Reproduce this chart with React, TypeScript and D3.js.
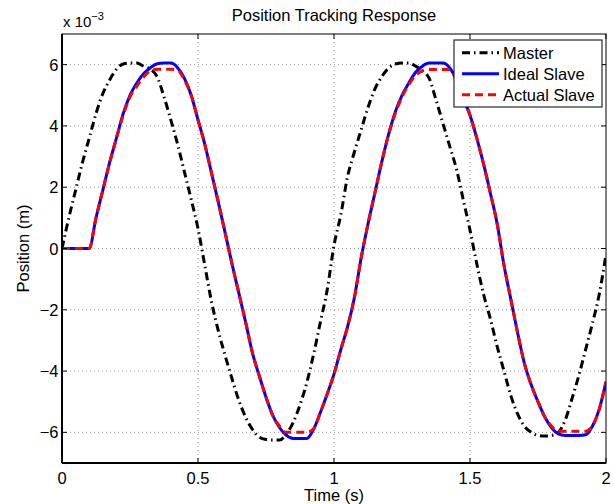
import React, { useRef, useEffect } from 'react';
import * as d3 from 'd3';

// time grid (s), values in units of 1e-3 m
const time = d3.range(81).map((i) => i * 0.025);

const master = [
  0, 1.0, 1.9, 2.8, 3.6, 4.4, 5.05, 5.5, 5.85, 6.02,
  6.05, 6.05, 5.95, 5.85, 5.6, 4.95, 4.2, 3.4, 2.5, 1.6,
  0.65, -0.55, -1.75, -2.7, -3.5, -4.25, -4.95, -5.5, -5.9, -6.15,
  -6.23, -6.25, -6.25, -6.05, -5.68, -5.1, -4.38, -3.45, -2.4, -1.35,
  0.1, 1.1, 2.35, 3.15, 3.88, 4.6, 5.2, 5.6, 5.88, 6.02,
  6.05, 6.05, 5.95, 5.8, 5.55, 4.85, 4.1, 3.35, 2.6, 1.6,
  0.6, -0.5, -1.5, -2.3, -3.2, -4.0, -4.8, -5.4, -5.8, -6.0,
  -6.1, -6.12, -6.1, -6.0, -5.6, -4.9, -4.15, -3.3, -2.45, -1.5,
  -0.2,
];

const idealSlave = [
  0, 0, 0, 0, 0, 1.0, 1.9, 2.8, 3.6, 4.4,
  5.0, 5.4, 5.7, 5.9, 6.03, 6.05, 6.05, 5.9, 5.55, 5.0,
  4.2, 3.4, 2.45, 1.5, 0.5, -0.5, -1.45, -2.4, -3.4, -4.15,
  -4.85, -5.45, -5.85, -6.1, -6.2, -6.2, -6.2, -5.9, -5.35, -4.75,
  -4.1, -3.3, -2.55, -1.6, -0.3, 0.8, 1.8, 2.8, 3.7, 4.45,
  5.0, 5.4, 5.75, 5.95, 6.05, 6.05, 6.05, 5.9, 5.5, 4.9,
  4.35, 3.6, 2.75, 1.8, 0.8, -0.55, -1.65, -2.75, -3.75, -4.45,
  -5.0, -5.5, -5.85, -6.05, -6.1, -6.1, -6.1, -6.08, -5.8, -5.25,
  -4.35,
];

const actualSlave = [
  0, 0, 0, 0, 0, 1.0, 1.9, 2.8, 3.6, 4.35,
  4.95, 5.3, 5.6, 5.8, 5.85, 5.85, 5.85, 5.82, 5.5, 5.0,
  4.2, 3.4, 2.45, 1.5, 0.5, -0.5, -1.45, -2.4, -3.4, -4.15,
  -4.85, -5.45, -5.8, -6.0, -6.0, -6.0, -6.0, -5.88, -5.35, -4.75,
  -4.1, -3.3, -2.55, -1.6, -0.3, 0.8, 1.8, 2.8, 3.7, 4.4,
  4.95, 5.35, 5.65, 5.8, 5.84, 5.84, 5.84, 5.84, 5.5, 4.9,
  4.35, 3.6, 2.75, 1.8, 0.8, -0.55, -1.65, -2.75, -3.75, -4.45,
  -5.0, -5.5, -5.8, -5.96, -5.96, -5.96, -5.96, -5.96, -5.8, -5.25,
  -4.35,
];

const xTicks = [0, 0.5, 1, 1.5, 2];
const yTicks = [-6, -4, -2, 0, 2, 4, 6];

const series = [
  { name: 'Master', values: master, color: '#000000', dash: '8,4,1.5,4' },
  { name: 'Ideal Slave', values: idealSlave, color: '#0000ff', dash: null },
  { name: 'Actual Slave', values: actualSlave, color: '#ff0000', dash: '8,5' },
];

const W = 613;
const H = 504;
const margin = { left: 62, right: 7, top: 34, bottom: 41 };
const font = '"Liberation Sans", Arial, Helvetica, sans-serif';
const fs = 16.5;

const draw = (svgEl: SVGSVGElement) => {
  const svg = d3.select(svgEl);
  svg.selectAll('*').remove();

  const x = d3.scaleLinear().domain([0, 2]).range([margin.left, W - margin.right]);
  const y = d3.scaleLinear().domain([-7, 7]).range([H - margin.bottom, margin.top]);
  const [x0, x1] = x.range();
  const [y0, y1] = y.range();

  svg.append('rect').attr('x', x0).attr('y', y1).attr('width', x1 - x0).attr('height', y0 - y1).attr('fill', '#fff');

  // grid
  const grid = svg.append('g').attr('stroke', '#7a7a7a').attr('stroke-width', 0.8).attr('stroke-dasharray', '1,3');
  xTicks.slice(1, -1).forEach((t) => {
    grid.append('line').attr('x1', x(t)).attr('x2', x(t)).attr('y1', y0).attr('y2', y1);
  });
  yTicks.forEach((t) => {
    grid.append('line').attr('x1', x0).attr('x2', x1).attr('y1', y(t)).attr('y2', y(t));
  });

  // lines
  const clipId = 'plot-clip';
  svg.append('clipPath').attr('id', clipId).append('rect')
    .attr('x', x0).attr('y', y1).attr('width', x1 - x0).attr('height', y0 - y1);

  const line = d3.line<number>()
    .x((_, i) => x(time[i]))
    .y((d) => y(d))
    .curve(d3.curveMonotoneX);

  series.forEach((s) => {
    svg.append('path')
      .attr('d', line(s.values))
      .attr('fill', 'none')
      .attr('stroke', s.color)
      .attr('stroke-width', 3)
      .attr('stroke-dasharray', s.dash)
      .attr('clip-path', `url(#${clipId})`);
  });

  // axes box and ticks
  const ax = svg.append('g').attr('stroke', '#000').attr('stroke-width', 1);
  ax.append('rect').attr('x', x0).attr('y', y1).attr('width', x1 - x0).attr('height', y0 - y1)
    .attr('fill', 'none');
  ax.append('line').attr('x1', x0).attr('x2', x1).attr('y1', y0).attr('y2', y0).attr('stroke-width', 2);
  ax.append('line').attr('x1', x0).attr('x2', x0).attr('y1', y0).attr('y2', y1).attr('stroke-width', 2);
  const tl = 5;
  xTicks.forEach((t) => {
    ax.append('line').attr('x1', x(t)).attr('x2', x(t)).attr('y1', y0).attr('y2', y0 - tl);
    ax.append('line').attr('x1', x(t)).attr('x2', x(t)).attr('y1', y1).attr('y2', y1 + tl);
  });
  yTicks.forEach((t) => {
    ax.append('line').attr('x1', x0).attr('x2', x0 + tl).attr('y1', y(t)).attr('y2', y(t));
    ax.append('line').attr('x1', x1).attr('x2', x1 - tl).attr('y1', y(t)).attr('y2', y(t));
  });

  const txt = svg.append('g').attr('font-family', font).attr('font-size', fs).attr('fill', '#000');
  xTicks.forEach((t) => {
    txt.append('text').attr('x', x(t)).attr('y', y0 + 20.5).attr('text-anchor', 'middle').text(String(t));
  });
  yTicks.forEach((t) => {
    txt.append('text').attr('x', x0 - 3.5).attr('y', y(t) + 6).attr('text-anchor', 'end')
      .text(t < 0 ? `\u2212${-t}` : String(t));
  });

  // exponent
  const ex = txt.append('text').attr('x', x0 + 1).attr('y', 27).attr('font-size', 15);
  ex.append('tspan').text('x 10');
  ex.append('tspan').attr('dy', -7).attr('font-size', 11).text('\u22123');

  txt.append('text').attr('x', (x0 + x1) / 2).attr('y', 21).attr('text-anchor', 'middle')
    .text('Position Tracking Response');
  txt.append('text').attr('x', (x0 + x1) / 2).attr('y', 501).attr('text-anchor', 'middle').text('Time (s)');
  txt.append('text').attr('transform', `translate(28.5,${(y0 + y1) / 2}) rotate(-90)`)
    .attr('text-anchor', 'middle').text('Position (m)');

  // legend
  const lg = svg.append('g').attr('transform', 'translate(454,40)');
  lg.append('rect').attr('width', 148).attr('height', 67).attr('fill', '#fff').attr('stroke', '#000');
  series.forEach((s, i) => {
    const ly = 12.7 + i * 21;
    lg.append('line').attr('x1', 8).attr('x2', 45).attr('y1', ly).attr('y2', ly)
      .attr('stroke', s.color).attr('stroke-width', 3).attr('stroke-dasharray', s.dash);
    lg.append('text').attr('x', 49).attr('y', ly + 6).attr('font-family', font).attr('font-size', fs)
      .text(s.name);
  });
};

const Chart = () => {
  const ref = useRef<SVGSVGElement>(null);
  useEffect(() => {
    if (ref.current) draw(ref.current);
  }, []);
  return <svg ref={ref} width={W} height={H} style={{ display: 'block' }} />;
};

export default function App() {
  return (
    <div style={{ position: 'absolute', left: 0, top: 0, width: W, height: H, background: '#fff' }}>
      <Chart />
    </div>
  );
}
